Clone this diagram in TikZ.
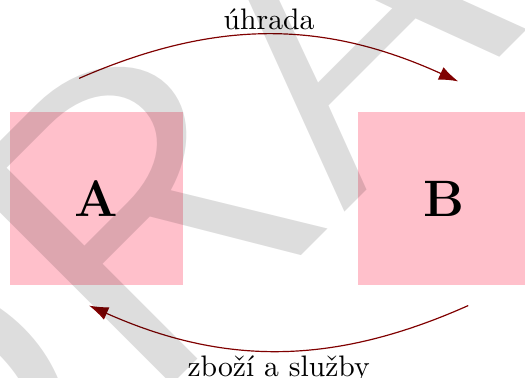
\documentclass[tikz,border=0pt]{standalone}
\usepackage{xcolor}
\usepackage{fontspec}
\usepackage{tikz}
\usetikzlibrary{positioning,arrows.meta}

\newfontfamily\wmfont{lmsans10-regular.otf}
\definecolor{boxpink}{RGB}{255,192,203}
\definecolor{flowred}{RGB}{128,0,0}

\begin{document}
\begin{tikzpicture}[node distance={2.056cm}, party/.style = {fill=boxpink, minimum size=2.05cm, font=\LARGE\bfseries}, flow/.style = {-{Latex[length=6.5pt,width=4.6pt]}, flowred, bend left=24}, lbl/.style = {inner sep=1.5pt, text=black}]
\useasboundingbox (0,0) rectangle (6.221,4.479);
\clip (0,0) rectangle (6.221,4.479);
\node[party] (A) at (1.144,2.127) {A};
\node[party] (B) [right=of A] {B};

\draw[flow] ([xshift=-2.07mm,yshift=3.91mm]A.north) to node[lbl, above] {úhrada} ([xshift=1.66mm,yshift=3.55mm]B.north);
\draw[flow] ([xshift=2.84mm,yshift=-2.37mm]B.south) to node[lbl, below] {zboží a služby} ([xshift=-0.89mm,yshift=-2.37mm]A.south);

\node[rotate=45, anchor=base west, text=black, text opacity=0.135, font=\fontsize{142.6}{142.6}\selectfont\wmfont] (wm) at (-0.948,-3.069) {DRAFT};
\end{tikzpicture}
\end{document}
